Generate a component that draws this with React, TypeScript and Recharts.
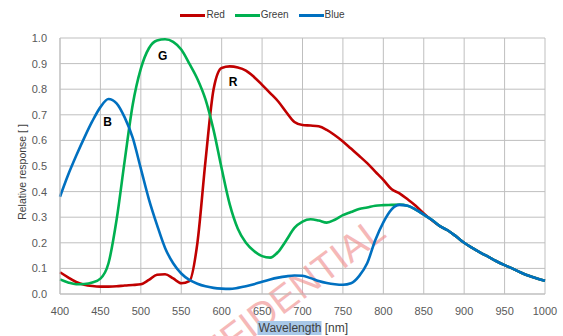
import {
  CartesianGrid,
  Customized,
  Legend,
  Line,
  LineChart,
  ReferenceDot,
  XAxis,
  YAxis,
} from "recharts";

/* Spectral response of the R/G/B channels. */

const WAVELENGTHS = [
  400, 410, 420, 430, 440, 450, 460, 470, 480, 490, 500, 510, 520, 530, 540, 550, 560, 570, 580, 590,
  600, 610, 620, 630, 640, 650, 660, 670, 680, 690, 700, 710, 720, 730, 740, 750, 760, 770, 780, 790,
  800, 810, 820, 830, 840, 850, 860, 870, 880, 890, 900, 910, 920, 930, 940, 950, 960, 970, 980, 990,
  1000,
];

const RED = [
  0.085, 0.065, 0.047, 0.036, 0.031, 0.029, 0.029, 0.03, 0.033, 0.035, 0.038, 0.055, 0.075, 0.077, 0.061,
  0.042, 0.05, 0.2, 0.52, 0.8, 0.883, 0.889, 0.885, 0.873, 0.848, 0.817, 0.785, 0.752, 0.71, 0.672, 0.66,
  0.658, 0.655, 0.641, 0.62, 0.596, 0.568, 0.54, 0.511, 0.478, 0.446, 0.41, 0.393, 0.37, 0.345, 0.315,
  0.288, 0.265, 0.248, 0.225, 0.2, 0.18, 0.162, 0.145, 0.128, 0.113, 0.099, 0.084, 0.071, 0.061, 0.052,
];

const GREEN = [
  0.057, 0.045, 0.038, 0.039, 0.045, 0.06, 0.12, 0.29, 0.52, 0.74, 0.88, 0.96, 0.99, 0.995, 0.985, 0.955,
  0.9, 0.84, 0.76, 0.64, 0.49, 0.35, 0.255, 0.2, 0.168, 0.148, 0.142, 0.165, 0.21, 0.258, 0.283, 0.292,
  0.287, 0.279, 0.29, 0.308, 0.32, 0.332, 0.338, 0.345, 0.347, 0.348, 0.349, 0.345, 0.33, 0.31, 0.29,
  0.265, 0.248, 0.225, 0.2, 0.18, 0.162, 0.145, 0.128, 0.113, 0.099, 0.084, 0.071, 0.061, 0.052,
];

const BLUE = [
  0.38, 0.465, 0.54, 0.61, 0.675, 0.73, 0.762, 0.745, 0.69, 0.61, 0.49, 0.37, 0.27, 0.18, 0.12, 0.08, 0.055,
  0.04, 0.03, 0.024, 0.021, 0.02, 0.024, 0.03, 0.038, 0.048, 0.057, 0.064, 0.069, 0.072, 0.071, 0.062,
  0.051, 0.043, 0.038, 0.036, 0.042, 0.07, 0.12, 0.21, 0.28, 0.33, 0.348, 0.345, 0.33, 0.31, 0.29, 0.265,
  0.248, 0.225, 0.2, 0.18, 0.162, 0.145, 0.128, 0.113, 0.099, 0.084, 0.071, 0.061, 0.052,
];

const X_TICKS = [400, 450, 500, 550, 600, 650, 700, 750, 800, 850, 900, 950, 1000];
const Y_TICKS = [0, 0.1, 0.2, 0.3, 0.4, 0.5, 0.6, 0.7, 0.8, 0.9, 1.0];

const PEAK_LABELS = [
  { name: "B", x: 459, y: 0.672 },
  { name: "G", x: 527, y: 0.93 },
  { name: "R", x: 614, y: 0.828 },
];

const SERIES = [
  { key: "red", name: "Red", color: "#C00000" },
  { key: "green", name: "Green", color: "#00B050" },
  { key: "blue", name: "Blue", color: "#0070C0" },
];

const FONT = "'Liberation Sans', Arial, sans-serif";
const TICK = { fontSize: 11, fontFamily: FONT, fill: "#595959" };

const data = WAVELENGTHS.map((w, i) => ({ w, red: RED[i], green: GREEN[i], blue: BLUE[i] }));

// keep the legend in series order (Recharts sorts it by name otherwise)
function LegendRow({ payload }: { payload?: { value: string; color: string }[] }) {
  const items = [...(payload ?? [])].sort(
    (a, b) => SERIES.findIndex((s) => s.name === a.value) - SERIES.findIndex((s) => s.name === b.value)
  );
  return (
    <div
      style={{
        height: 31,
        display: "flex",
        justifyContent: "center",
        alignItems: "flex-start",
        gap: 10,
        paddingRight: 20,
        fontFamily: FONT,
        fontSize: 10,
        lineHeight: "16px",
        color: "#404040",
      }}
    >
      {items.map((p) => (
        <span key={p.value} style={{ display: "flex", alignItems: "center" }}>
          <span style={{ width: 25, height: 3, background: p.color, marginRight: 1 }} />
          {p.value}
        </span>
      ))}
    </div>
  );
}

function YTitle({ viewBox }: { viewBox?: { x: number; y: number; width: number; height: number } }) {
  if (!viewBox) return null;
  const cx = viewBox.x + 22;
  const cy = viewBox.y + viewBox.height / 2 + 6;
  return (
    <text
      x={cx}
      y={cy}
      transform={`rotate(-90 ${cx} ${cy})`}
      textAnchor="middle"
      dominantBaseline="central"
      fontFamily={FONT}
      fontSize={10.5}
      fill="#404040"
    >
      Relative response [ ]
    </text>
  );
}

function XTitle({ viewBox }: { viewBox?: { x: number; y: number; width: number; height: number } }) {
  if (!viewBox) return null;
  const x0 = viewBox.x + viewBox.width / 2 - 44;
  const base = viewBox.y + 38;
  return (
    <g>
      <rect x={x0 - 1} y={base - 11} width={64} height={14} fill="#A8C8E8" />
      <text x={x0} y={base} fontFamily={FONT} fontSize={12} fill="#404040">
        Wavelength [nm]
      </text>
    </g>
  );
}

function Watermark() {
  return (
    <text
      x={388}
      y={236}
      transform="rotate(-37 388 236)"
      textAnchor="end"
      fontFamily={FONT}
      fontSize={38}
      fill="#F08A8A"
      opacity={0.6}
    >
      CONFIDENTIAL
    </text>
  );
}

export default function App() {
  return (
    <div style={{ position: "absolute", left: 0, top: 0, width: 563, height: 336, background: "#fff" }}>
      <LineChart width={563} height={336} data={data} margin={{ top: 7, right: 18, bottom: 12, left: 0 }}>
        <CartesianGrid stroke="#BFBFBF" strokeWidth={1} />
        <Customized component={<Watermark />} />
        <XAxis
          dataKey="w"
          type="number"
          domain={[400, 1000]}
          ticks={X_TICKS}
          tick={TICK}
          tickLine={false}
          axisLine={{ stroke: "#BFBFBF" }}
          tickSize={0}
          tickMargin={13}
          height={30}
          interval={0}
          label={<XTitle />}
        />
        <YAxis
          type="number"
          domain={[0, 1]}
          ticks={Y_TICKS}
          tick={TICK}
          tickLine={false}
          axisLine={{ stroke: "#BFBFBF" }}
          tickSize={0}
          tickMargin={13}
          width={60}
          interval={0}
          tickFormatter={(v: number) => v.toFixed(1)}
          label={<YTitle />}
        />
        <Legend verticalAlign="top" align="center" content={<LegendRow />} />
        {SERIES.map((s) => (
          <Line
            key={s.key}
            type="monotone"
            dataKey={s.key}
            name={s.name}
            stroke={s.color}
            strokeWidth={2.6}
            dot={false}
            isAnimationActive={false}
          />
        ))}
        {PEAK_LABELS.map((p) => (
          <ReferenceDot
            key={p.name}
            x={p.x}
            y={p.y}
            r={0}
            stroke="none"
            label={{ value: p.name, position: "center", fontFamily: FONT, fontSize: 12, fontWeight: "bold", fill: "#000" }}
          />
        ))}
      </LineChart>
    </div>
  );
}
